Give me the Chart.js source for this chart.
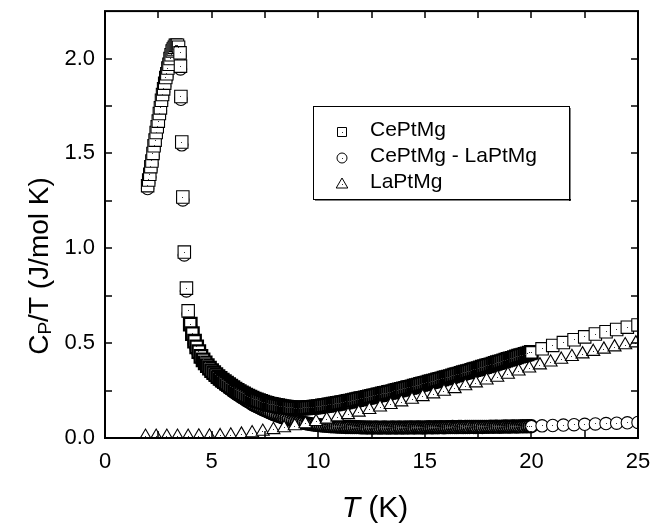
<!DOCTYPE html>
<html><head><meta charset="utf-8">
<script src="https://cdn.jsdelivr.net/npm/chart.js"></script>
<style>html,body{margin:0;padding:0;background:#fff;}#wrap{width:652px;height:527px;position:relative;}</style>
</head><body><div id="wrap"><canvas id="c" width="652" height="527"></canvas></div>
<script>
// ---- data ----
const seriesLabels = ['CePtMg', 'CePtMg - LaPtMg', 'LaPtMg'];

// CePtMg and CePtMg - LaPtMg share the same temperatures
const tCeLow = [2.00,2.05,2.10,2.15,2.20,2.25,2.30,2.35,2.40,2.45,2.50,2.55,2.60,2.65,2.70,2.75,2.80,2.85,2.90,2.95,3.00,3.05,3.10,3.15,3.20,3.25,3.30,3.35,3.40,3.45,3.52,3.54,3.56,3.60,3.65,3.72,3.82,3.90];
const ceLow = [1.33,1.36,1.39,1.43,1.46,1.50,1.54,1.57,1.61,1.64,1.67,1.71,1.74,1.78,1.81,1.84,1.87,1.90,1.92,1.95,1.97,2.00,2.02,2.04,2.05,2.06,2.07,2.07,2.07,2.06,2.03,1.96,1.80,1.56,1.27,0.98,0.79,0.67];
const diffLow = [1.315,1.345,1.375,1.415,1.445,1.485,1.525,1.555,1.595,1.625,1.655,1.695,1.725,1.765,1.795,1.825,1.855,1.885,1.905,1.935,1.955,1.985,2.005,2.025,2.035,2.045,2.055,2.055,2.055,2.045,2.015,1.945,1.785,1.545,1.255,0.965,0.775,0.655];

const tCeDense = [4.0,4.1,4.2,4.3,4.4,4.5,4.6,4.7,4.8,4.9,5.0,5.1,5.2,5.3,5.4,5.5,5.6,5.7,5.8,5.9,6.0,6.1,6.2,6.3,6.4,6.5,6.6,6.7,6.8,6.9,7.0,7.1,7.2,7.3,7.4,7.5,7.6,7.7,7.8,7.9,8.0,8.1,8.2,8.3,8.4,8.5,8.6,8.7,8.8,8.9,9.0,9.1,9.2,9.3,9.4,9.5,9.6,9.7,9.8,9.9,10.0,10.1,10.2,10.3,10.4,10.5,10.6,10.7,10.8,10.9,11.0,11.1,11.2,11.3,11.4,11.5,11.6,11.7,11.8,11.9,12.0,12.1,12.2,12.3,12.4,12.5,12.6,12.7,12.8,12.9,13.0,13.1,13.2,13.3,13.4,13.5,13.6,13.7,13.8,13.9,14.0,14.1,14.2,14.3,14.4,14.5,14.6,14.7,14.8,14.9,15.0,15.1,15.2,15.3,15.4,15.5,15.6,15.7,15.8,15.9,16.0,16.1,16.2,16.3,16.4,16.5,16.6,16.7,16.8,16.9,17.0,17.1,17.2,17.3,17.4,17.5,17.6,17.7,17.8,17.9,18.0,18.1,18.2,18.3,18.4,18.5,18.6,18.7,18.8,18.9,19.0,19.1,19.2,19.3,19.4,19.5,19.6,19.7,19.8,19.9,20.0];
const ceDense = [0.600,0.550,0.510,0.480,0.455,0.430,0.412,0.396,0.381,0.368,0.355,0.344,0.334,0.323,0.314,0.305,0.297,0.289,0.281,0.273,0.265,0.258,0.251,0.245,0.238,0.232,0.226,0.221,0.215,0.210,0.205,0.201,0.197,0.193,0.189,0.185,0.182,0.179,0.177,0.174,0.172,0.170,0.168,0.166,0.164,0.163,0.162,0.160,0.159,0.158,0.158,0.158,0.158,0.159,0.159,0.160,0.161,0.162,0.163,0.164,0.166,0.167,0.169,0.170,0.172,0.174,0.176,0.178,0.180,0.182,0.184,0.186,0.188,0.191,0.193,0.195,0.197,0.200,0.202,0.205,0.207,0.209,0.212,0.214,0.217,0.219,0.222,0.224,0.227,0.229,0.232,0.235,0.237,0.240,0.242,0.245,0.248,0.251,0.253,0.256,0.259,0.262,0.265,0.267,0.270,0.273,0.276,0.279,0.282,0.285,0.288,0.291,0.294,0.297,0.300,0.303,0.306,0.309,0.312,0.315,0.318,0.321,0.324,0.328,0.331,0.334,0.337,0.340,0.344,0.347,0.350,0.353,0.356,0.360,0.363,0.366,0.369,0.373,0.376,0.380,0.383,0.386,0.390,0.393,0.397,0.400,0.403,0.407,0.410,0.414,0.417,0.420,0.424,0.427,0.431,0.434,0.437,0.441,0.444,0.448,0.451];
const diffDense = [0.587,0.537,0.497,0.467,0.442,0.417,0.399,0.383,0.368,0.354,0.340,0.329,0.319,0.308,0.298,0.289,0.280,0.272,0.263,0.255,0.246,0.238,0.230,0.223,0.215,0.208,0.201,0.194,0.187,0.180,0.173,0.168,0.162,0.157,0.151,0.146,0.141,0.136,0.131,0.126,0.122,0.118,0.114,0.110,0.106,0.103,0.099,0.096,0.093,0.090,0.087,0.085,0.082,0.080,0.078,0.076,0.074,0.072,0.071,0.069,0.068,0.067,0.066,0.065,0.064,0.063,0.062,0.062,0.061,0.060,0.060,0.059,0.059,0.058,0.058,0.058,0.057,0.057,0.057,0.057,0.056,0.056,0.056,0.055,0.056,0.055,0.055,0.056,0.055,0.055,0.055,0.056,0.055,0.055,0.055,0.056,0.055,0.055,0.056,0.055,0.055,0.056,0.055,0.056,0.056,0.055,0.056,0.056,0.056,0.055,0.056,0.056,0.057,0.056,0.056,0.057,0.056,0.057,0.057,0.056,0.057,0.057,0.057,0.058,0.057,0.057,0.058,0.058,0.057,0.058,0.058,0.058,0.059,0.058,0.058,0.059,0.059,0.058,0.059,0.059,0.059,0.060,0.059,0.060,0.060,0.059,0.060,0.060,0.061,0.060,0.060,0.061,0.061,0.060,0.061,0.061,0.062,0.061,0.062,0.062,0.062];

const tCeHigh = [20.5,21.0,21.5,22.0,22.5,23.0,23.5,24.0,24.5,25.0];
const ceHigh = [0.470,0.488,0.503,0.518,0.533,0.548,0.560,0.572,0.584,0.596];
const diffHigh = [0.064,0.066,0.068,0.070,0.072,0.074,0.076,0.078,0.080,0.082];

// LaPtMg
const tLa = [1.9,2.4,2.9,3.4,3.9,4.4,4.9,5.4,5.9,6.4,6.9,7.4,7.9,8.4,8.9,9.4,9.9,10.4,10.9,11.4,11.9,12.4,12.9,13.4,13.9,14.4,14.9,15.4,15.9,16.4,16.9,17.4,17.9,18.4,18.9,19.4,19.9,20.4,20.9,21.4,21.9,22.4,22.9,23.4,23.9,24.4,24.9];
const la = [0.008,0.008,0.008,0.008,0.008,0.009,0.009,0.011,0.014,0.019,0.026,0.034,0.043,0.053,0.063,0.074,0.086,0.098,0.110,0.122,0.135,0.149,0.162,0.175,0.189,0.203,0.217,0.231,0.245,0.259,0.274,0.289,0.304,0.319,0.335,0.352,0.368,0.384,0.399,0.414,0.428,0.442,0.455,0.467,0.479,0.490,0.500];

// axis ticks
const xMajorTicks = [0,5,10,15,20,25];
const xMinorTicks = [2.5,7.5,12.5,17.5,22.5];
const yMajorTicks = [0.0,0.5,1.0,1.5,2.0];
const yMinorTicks = [0.25,0.75,1.25,1.75];

// ---- build ----
const FONT = '"Liberation Sans", Arial, Helvetica, sans-serif';
function pts(xs, ys){ return xs.map((x,i)=>({x:x, y:ys[i]})); }
const tCe = tCeLow.concat(tCeDense, tCeHigh);
const ce = ceLow.concat(ceDense, ceHigh);
const diff = diffLow.concat(diffDense, diffHigh);

const dotPlugin = {
  id:'dots',
  afterDatasetDraw(chart, args){
    const ctx = chart.ctx, a = chart.chartArea;
    ctx.save();
    ctx.beginPath(); ctx.rect(a.left, a.top, a.right-a.left, a.bottom-a.top); ctx.clip();
    ctx.fillStyle = '#333';
    args.meta.data.forEach(p => { ctx.fillRect(Math.floor(p.x), Math.floor(p.y), 1, 1); });
    ctx.restore();
  }
};

function drawMarker(ctx, style, x, y){
  ctx.beginPath();
  if (style === 'rect') { ctx.rect(x-4.5, y-4.5, 9, 9); }
  else if (style === 'circle') { ctx.arc(x, y, 5, 0, Math.PI*2); }
  else { ctx.moveTo(x, y-6); ctx.lineTo(x+5.8, y+4); ctx.lineTo(x-5.8, y+4); ctx.closePath(); }
  ctx.fillStyle = '#fff'; ctx.fill();
  ctx.strokeStyle = '#000'; ctx.lineWidth = 1; ctx.stroke();
  ctx.fillStyle = '#333'; ctx.fillRect(Math.floor(x), Math.floor(y), 1, 1);
}

const framePlugin = {
  id:'frame',
  afterDatasetsDraw(chart){
    const ctx = chart.ctx, a = chart.chartArea, xs = chart.scales.x, ys = chart.scales.y;
    ctx.save();
    ctx.strokeStyle = '#000';
    ctx.lineWidth = 2;
    ctx.strokeRect(a.left, a.top, a.right-a.left, a.bottom-a.top);
    ctx.lineWidth = 1.5;
    const L = 7;
    ctx.beginPath();
    xMajorTicks.concat(xMinorTicks).forEach(v => {
      const px = Math.round(xs.getPixelForValue(v));
      ctx.moveTo(px, a.bottom); ctx.lineTo(px, a.bottom - L);
      ctx.moveTo(px, a.top); ctx.lineTo(px, a.top + L);
    });
    yMajorTicks.concat(yMinorTicks).forEach(v => {
      const py = Math.round(ys.getPixelForValue(v));
      ctx.moveTo(a.left, py); ctx.lineTo(a.left + L, py);
      ctx.moveTo(a.right, py); ctx.lineTo(a.right - L, py);
    });
    ctx.stroke();

    // legend box
    const bx = 313, by = 106, bw = 256, bh = 93;
    ctx.fillStyle = '#fff'; ctx.fillRect(bx, by, bw, bh);
    ctx.fillStyle = '#000';
    ctx.fillRect(bx+2, by+bh, bw, 1.5);
    ctx.fillRect(bx+bw, by+2, 1.5, bh);
    ctx.lineWidth = 1; ctx.strokeStyle = '#000';
    ctx.strokeRect(bx+0.5, by+0.5, bw, bh);
    const styles = ['rect','circle','triangle'];
    const rowsY = [136, 162, 188];
    ctx.font = '21px ' + FONT;
    ctx.textBaseline = 'alphabetic'; ctx.textAlign = 'left';
    seriesLabels.forEach((lab, i) => {
      drawMarker(ctx, styles[i], 342, rowsY[i] - 4);
      ctx.fillStyle = '#000';
      ctx.fillText(lab, 370, rowsY[i]);
    });

    // x title: italic T + (K)
    ctx.fillStyle = '#000';
    ctx.font = 'italic 30px ' + FONT;
    const wT = ctx.measureText('T').width;
    ctx.font = '30px ' + FONT;
    const wK = ctx.measureText(' (K)').width;
    const cx = 375, sx = cx - (wT + wK)/2;
    ctx.font = 'italic 30px ' + FONT;
    ctx.fillText('T', sx, 517);
    ctx.font = '30px ' + FONT;
    ctx.fillText(' (K)', sx + wT, 517);

    // y title: C_P/T (J/mol K)
    ctx.save();
    ctx.translate(48, 266);
    ctx.rotate(-Math.PI/2);
    ctx.font = '28px ' + FONT; const w1 = ctx.measureText('C').width;
    ctx.font = '19px ' + FONT; const w2 = ctx.measureText('P').width;
    ctx.font = '28px ' + FONT; const w3 = ctx.measureText('/T (J/mol K)').width;
    let ox = -(w1 + w2 + w3)/2;
    ctx.font = '28px ' + FONT; ctx.fillText('C', ox, 0); ox += w1;
    ctx.font = '19px ' + FONT; ctx.fillText('P', ox, 3); ox += w2;
    ctx.font = '28px ' + FONT; ctx.fillText('/T (J/mol K)', ox, 0);
    ctx.restore();

    ctx.restore();
  }
};

// thicker outlines where points are packed densely (4 K - 20 K)
const denseSq = (c) => (c.raw && c.raw.x >= 4 && c.raw.x <= 20.05) ? 2.3 : 1.1;
const denseCi = (c) => (c.raw && c.raw.x >= 4 && c.raw.x <= 20.05) ? 1.9 : 1.1;
const common = { showLine:false, pointBorderColor:'#000', pointBackgroundColor:'#fff', clip:0 };

new Chart(document.getElementById('c'), {
  type: 'scatter',
  data: {
    datasets: [
      Object.assign({ label: seriesLabels[0], data: pts(tCe, ce), pointStyle:'rect', pointRadius:8.8, pointBorderWidth:denseSq, order:1 }, common),
      Object.assign({ label: seriesLabels[1], data: pts(tCe, diff), pointStyle:'circle', pointRadius:6.2, pointBorderWidth:denseCi, order:2 }, common),
      Object.assign({ label: seriesLabels[2], data: pts(tLa, la), pointStyle:'triangle', pointRadius:7.5, pointBorderWidth:1.1, order:0 }, common)
    ]
  },
  options: {
    responsive:false, maintainAspectRatio:false, animation:false, devicePixelRatio:1, events:[],
    layout: { padding: { top:8, right:14, left:0, bottom:0 } },
    plugins: { legend:{display:false}, tooltip:{enabled:false}, title:{display:false} },
    scales: {
      x: {
        type:'linear', min:0, max:25,
        grid:{display:false, drawTicks:false}, border:{display:false},
        ticks:{ font:{family:FONT, size:22}, color:'#000', padding:11, maxRotation:0, autoSkip:false, callback:(v)=>String(v) },
        afterBuildTicks:(s)=>{ s.ticks = xMajorTicks.map(v=>({value:v})); },
        afterFit:(s)=>{ s.height = 89; s.paddingLeft = 0; s.paddingRight = 0; }
      },
      y: {
        type:'linear', min:0, max:2.25,
        grid:{display:false, drawTicks:false}, border:{display:false},
        ticks:{ font:{family:FONT, size:22}, color:'#000', padding:10, autoSkip:false, callback:(v)=>Number(v).toFixed(1) },
        afterBuildTicks:(s)=>{ s.ticks = yMajorTicks.map(v=>({value:v})); },
        afterFit:(s)=>{ s.width = 105; s.paddingTop = 0; s.paddingBottom = 0; }
      }
    }
  },
  plugins: [dotPlugin, framePlugin]
});
</script>
</body></html>
